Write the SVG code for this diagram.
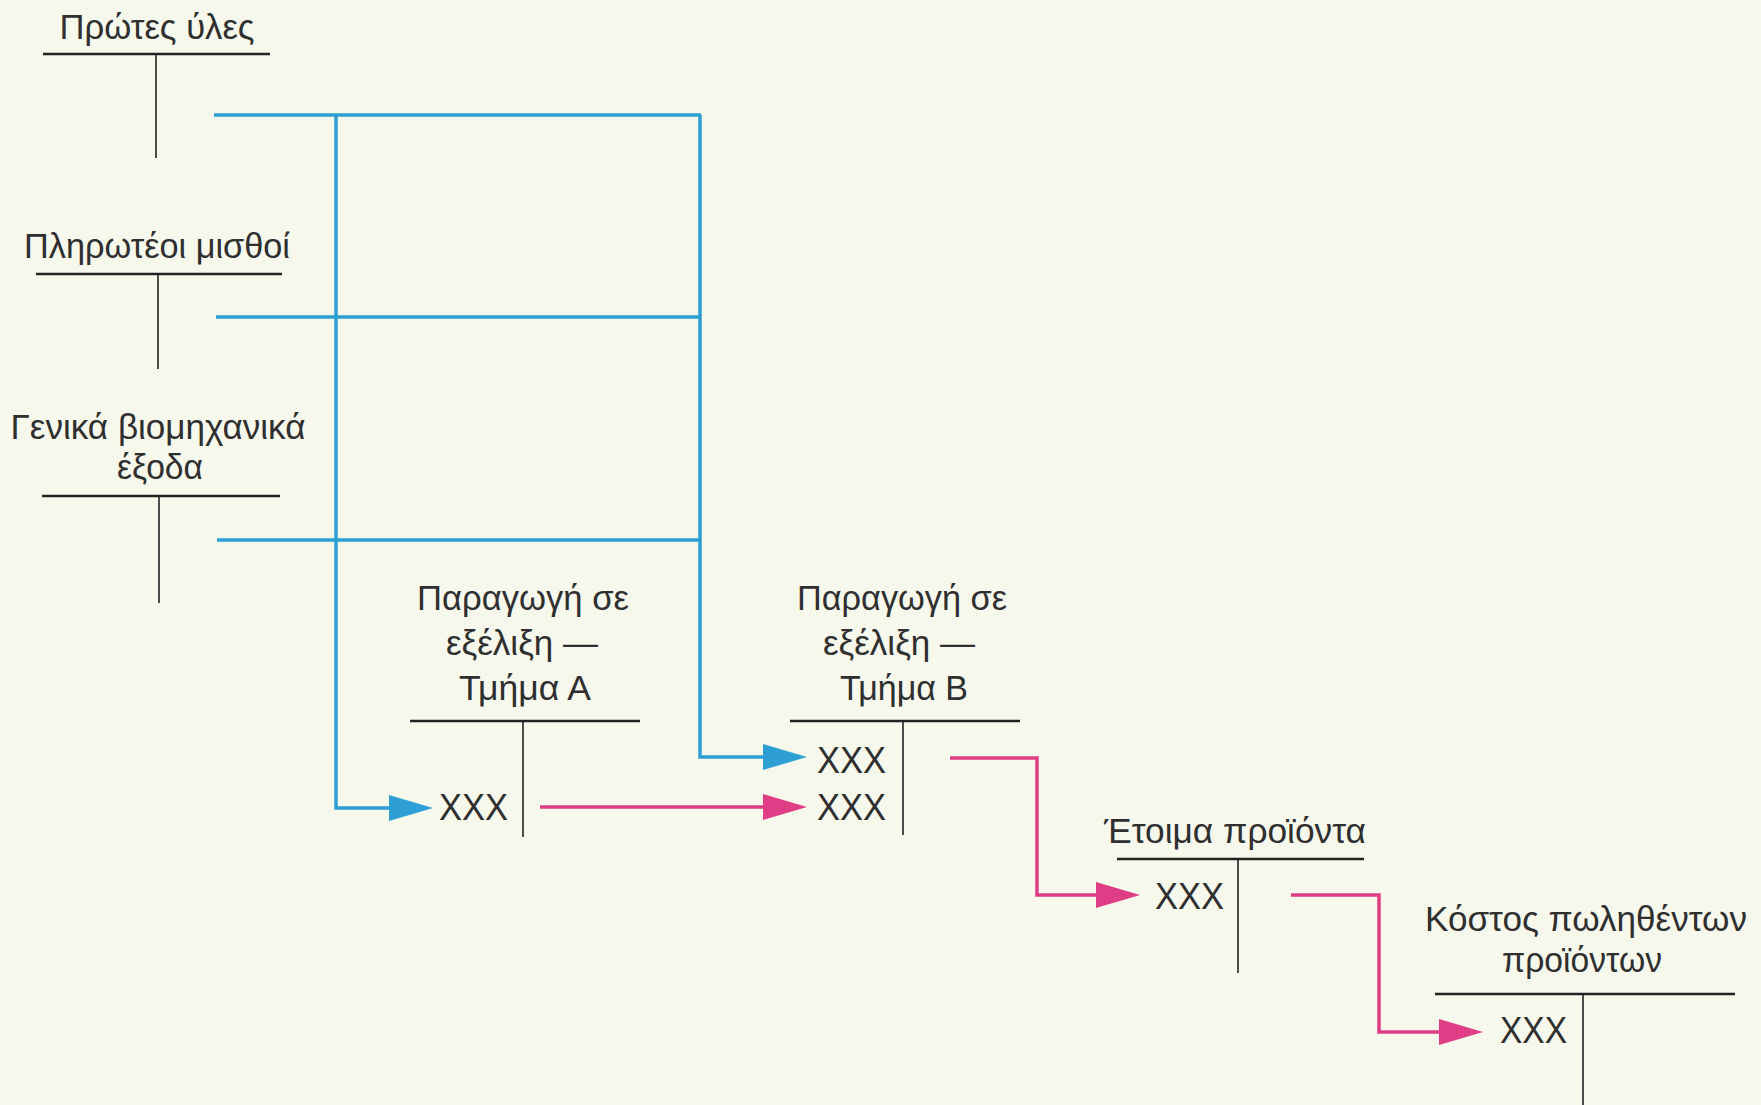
<svg xmlns="http://www.w3.org/2000/svg" width="1761" height="1105" viewBox="0 0 1761 1105">
<style>
  .lbl { font-family: "Liberation Sans", Arial, sans-serif; font-size: 35px; fill: #2f2f2f; text-anchor: middle; }
  .xxx { font-family: "Liberation Sans", Arial, sans-serif; font-size: 36px; fill: #2f2f2f; }
  .ul { stroke: #222; stroke-width: 2.5; fill: none; }
  .stem { stroke: #222; stroke-width: 1.6; fill: none; }
  .blue { stroke: #2e9fd4; stroke-width: 3.5; fill: none; }
  .pink { stroke: #df3d86; stroke-width: 3.5; fill: none; }
</style>
<defs>
  <marker id="ab" markerUnits="userSpaceOnUse" markerWidth="44" markerHeight="26" viewBox="0 0 44 26" refX="34" refY="13" orient="auto">
    <path d="M0,0 L44,13 L0,26 z" fill="#2e9fd4"/>
  </marker>
  <marker id="ap" markerUnits="userSpaceOnUse" markerWidth="44" markerHeight="26" viewBox="0 0 44 26" refX="34" refY="13" orient="auto">
    <path d="M0,0 L44,13 L0,26 z" fill="#df3d86"/>
  </marker>
</defs>
<rect width="1761" height="1105" fill="#f6f8ec"/>

<g id="node-prwtes-yles">
  <text class="lbl" x="157" y="39" textLength="195" lengthAdjust="spacingAndGlyphs">Πρώτες ύλες</text>
  <line class="ul" x1="43" y1="54" x2="270" y2="54"/>
  <line class="stem" x1="156" y1="54" x2="156" y2="158"/>
</g>
<g id="node-misthoi">
  <text class="lbl" x="157" y="258" textLength="266" lengthAdjust="spacingAndGlyphs">Πληρωτέοι μισθοί</text>
  <line class="ul" x1="36" y1="274" x2="282" y2="274"/>
  <line class="stem" x1="158" y1="274" x2="158" y2="369"/>
</g>
<g id="node-genika">
  <text class="lbl" x="158" y="439" textLength="295" lengthAdjust="spacingAndGlyphs">Γενικά βιομηχανικά</text>
  <text class="lbl" x="160" y="479" textLength="86" lengthAdjust="spacingAndGlyphs">έξοδα</text>
  <line class="ul" x1="42" y1="496" x2="280" y2="496"/>
  <line class="stem" x1="159" y1="496" x2="159" y2="603"/>
</g>
<g id="node-tmima-a">
  <text class="lbl" x="523" y="610" textLength="212" lengthAdjust="spacingAndGlyphs">Παραγωγή σε</text>
  <text class="lbl" x="522" y="655" textLength="152" lengthAdjust="spacingAndGlyphs">εξέλιξη —</text>
  <text class="lbl" x="525" y="700" textLength="132" lengthAdjust="spacingAndGlyphs">Τμήμα Α</text>
  <line class="ul" x1="410" y1="721" x2="640" y2="721"/>
  <line class="stem" x1="523" y1="721" x2="523" y2="837"/>
  <text class="xxx" x="439" y="820" textLength="69" lengthAdjust="spacingAndGlyphs">XXX</text>
</g>
<g id="node-tmima-b">
  <text class="lbl" x="902" y="610" textLength="210" lengthAdjust="spacingAndGlyphs">Παραγωγή σε</text>
  <text class="lbl" x="899" y="655" textLength="152" lengthAdjust="spacingAndGlyphs">εξέλιξη —</text>
  <text class="lbl" x="904" y="700" textLength="128" lengthAdjust="spacingAndGlyphs">Τμήμα Β</text>
  <line class="ul" x1="790" y1="721" x2="1020" y2="721"/>
  <line class="stem" x1="903" y1="721" x2="903" y2="835"/>
  <text class="xxx" x="817" y="773" textLength="69" lengthAdjust="spacingAndGlyphs">XXX</text>
  <text class="xxx" x="817" y="820" textLength="69" lengthAdjust="spacingAndGlyphs">XXX</text>
</g>
<g id="node-etoima">
  <text class="lbl" x="1235" y="843" textLength="262" lengthAdjust="spacingAndGlyphs">Έτοιμα προϊόντα</text>
  <line class="ul" x1="1117" y1="859" x2="1364" y2="859"/>
  <line class="stem" x1="1238" y1="859" x2="1238" y2="973"/>
  <text class="xxx" x="1155" y="909" textLength="69" lengthAdjust="spacingAndGlyphs">XXX</text>
</g>
<g id="node-kostos">
  <text class="lbl" x="1586" y="931" textLength="322" lengthAdjust="spacingAndGlyphs">Κόστος πωληθέντων</text>
  <text class="lbl" x="1582" y="972" textLength="160" lengthAdjust="spacingAndGlyphs">προϊόντων</text>
  <line class="ul" x1="1435" y1="994" x2="1735" y2="994"/>
  <line class="stem" x1="1583" y1="994" x2="1583" y2="1105"/>
  <text class="xxx" x="1500" y="1043" textLength="67" lengthAdjust="spacingAndGlyphs">XXX</text>
</g>

<g id="connectors">
  <line class="blue" x1="214" y1="115" x2="701" y2="115"/>
  <line class="blue" x1="216" y1="317" x2="701" y2="317"/>
  <line class="blue" x1="217" y1="540" x2="701" y2="540"/>
  <path class="blue" d="M336,115 V808 H423" marker-end="url(#ab)"/>
  <path class="blue" d="M700,115 V757 H797" marker-end="url(#ab)"/>
  <path class="pink" d="M540,807 H797" marker-end="url(#ap)"/>
  <path class="pink" d="M950,758 H1037 V895 H1130" marker-end="url(#ap)"/>
  <path class="pink" d="M1291,895 H1379 V1032 H1473" marker-end="url(#ap)"/>
</g>
</svg>
